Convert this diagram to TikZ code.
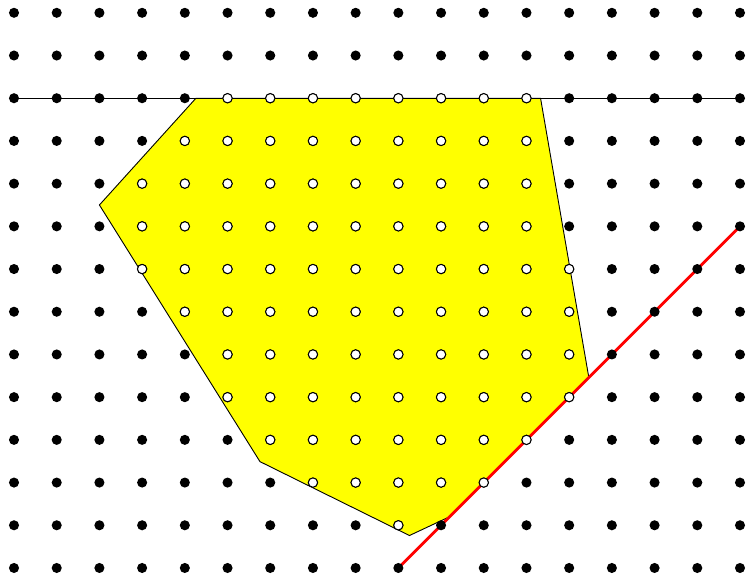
\documentclass[tikz,border=0pt]{standalone}
\usepackage{tikz}
\usepackage{xcolor}
\usetikzlibrary{calc}
\definecolor{polyyellow}{RGB}{255,255,0}
\definecolor{linered}{RGB}{255,0,0}
\tikzset{dot/.style={fill=black},hole/.style={fill=white,draw=black,line width=0.7pt}}
\begin{document}
\begin{tikzpicture}
\useasboundingbox (-0.328,-0.164) rectangle (17.164,13.30);
\fill[polyyellow,draw=black,line width=0.6pt](4.26,11)--(12.33,11)--(13.46,4.46)--(10.2,1.2)--(9.26,0.76)--(5.76,2.49)--(2,8.5)--cycle;
\draw[line width=0.6pt](0,11)--(17,11);
\draw[linered,line width=1.9pt](9,0)--(17,8);
\foreach \x in {0,1,...,17}{ \foreach \y in {0,1,...,13}{ \fill[dot] (\x,\y) circle (0.118); } }
\foreach \y/\a/\b in {11/5/12,10/4/12,9/3/12,8/3/12,7/3/13,6/4/13,5/5/13,4/5/13,3/6/12,2/7/11,1/9/9}
{ \foreach \x in {\a,...,\b}{ \draw[hole] (\x,\y) circle (0.11); }
}
\end{tikzpicture}
\end{document}
